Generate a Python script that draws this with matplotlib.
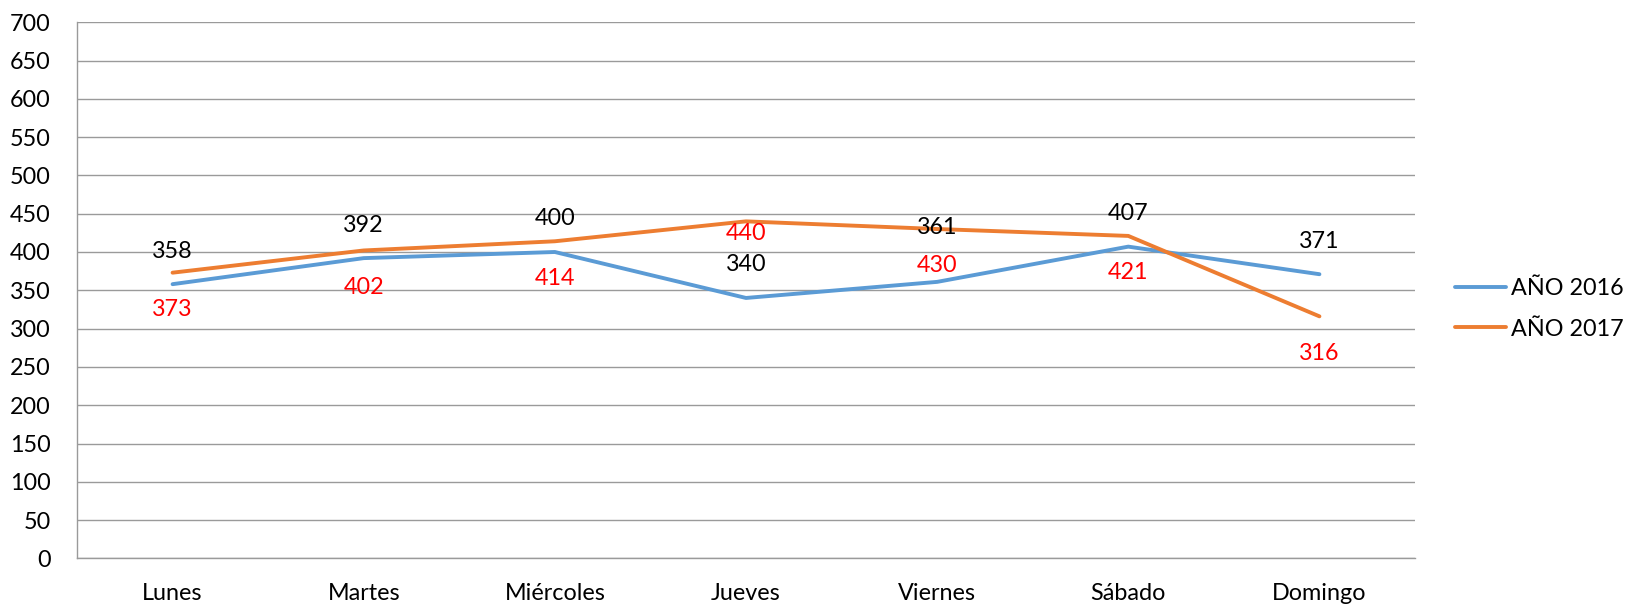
import matplotlib.pyplot as plt

# Datos
dias = ['Lunes', 'Martes', 'Miércoles', 'Jueves', 'Viernes', 'Sábado', 'Domingo']
anio_2016 = [358, 392, 400, 340, 361, 407, 371]
anio_2017 = [373, 402, 414, 440, 430, 421, 316]
ticks_y = list(range(0, 701, 50))

# Desplazamiento de etiquetas (puntos), ajustes manuales como en el original
desp_2016 = {4: 39}
desp_2017 = {3: -9}

plt.rcParams['font.family'] = ['Lato', 'DejaVu Sans']
fs = 16.8

W, H = 1626, 606
fig = plt.figure(figsize=(W / 100, H / 100), dpi=100)
ax = fig.add_axes([77 / W, 1 - 558.4 / H, (1415 - 77) / W, (558.4 - 22.2) / H])

x = list(range(len(dias)))
ax.plot(x, anio_2016, color='#5B9BD5', linewidth=2.8, label='AÑO 2016', solid_capstyle='round')
ax.plot(x, anio_2017, color='#ED7D31', linewidth=2.8, label='AÑO 2017', solid_capstyle='round')

# Etiquetas de datos
for xi, v in zip(x, anio_2016):
    ax.annotate(str(v), (xi, v), xytext=(0, desp_2016.get(xi, 23.8)), textcoords='offset points',
                ha='center', va='center', fontsize=fs, color='black')
for xi, v in zip(x, anio_2017):
    ax.annotate(str(v), (xi, v), xytext=(0, desp_2017.get(xi, -26.6)), textcoords='offset points',
                ha='center', va='center', fontsize=fs, color='red')

ax.set_xlim(-0.5, len(dias) - 0.5)
ax.set_ylim(0, 700)
ax.set_yticks(ticks_y)
ax.set_xticks(x)
ax.set_xticklabels(dias)
ax.tick_params(axis='both', length=0, labelsize=fs)
ax.tick_params(axis='y', pad=19)
ax.tick_params(axis='x', pad=18)
ax.grid(axis='y', color='#9A9A9A', linewidth=1)
ax.set_axisbelow(True)
for s in ['top', 'right']:
    ax.spines[s].set_visible(False)
for s in ['left', 'bottom']:
    ax.spines[s].set_color('#9A9A9A')
    ax.spines[s].set_linewidth(1)

ax.legend(loc='center left', bbox_to_anchor=(1455 / W, 1 - 309 / H), bbox_transform=fig.transFigure,
          frameon=False, fontsize=fs, borderpad=0, borderaxespad=0,
          handlelength=2.2, handletextpad=0.22, labelspacing=0.82)

plt.savefig('out.png', dpi=100)
